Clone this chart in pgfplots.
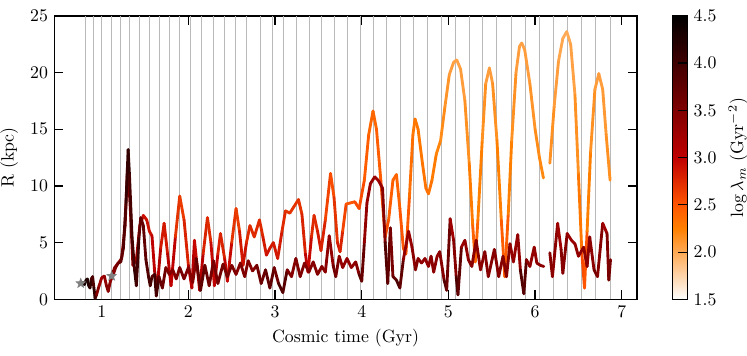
\documentclass[border=0pt]{standalone}
\usepackage{pgfplots}
\pgfplotsset{compat=1.18}
\pgfdeclareplotmark{fstar}{%
  \pgfpathmoveto{\pgfpointpolar{90}{\pgfplotmarksize}}%
  \pgfpathlineto{\pgfpointpolar{126}{0.42\pgfplotmarksize}}%
  \pgfpathlineto{\pgfpointpolar{162}{\pgfplotmarksize}}%
  \pgfpathlineto{\pgfpointpolar{198}{0.42\pgfplotmarksize}}%
  \pgfpathlineto{\pgfpointpolar{234}{\pgfplotmarksize}}%
  \pgfpathlineto{\pgfpointpolar{270}{0.42\pgfplotmarksize}}%
  \pgfpathlineto{\pgfpointpolar{306}{\pgfplotmarksize}}%
  \pgfpathlineto{\pgfpointpolar{342}{0.42\pgfplotmarksize}}%
  \pgfpathlineto{\pgfpointpolar{18}{\pgfplotmarksize}}%
  \pgfpathlineto{\pgfpointpolar{54}{0.42\pgfplotmarksize}}%
  \pgfpathclose\pgfusepathqfillstroke}

\pgfplotstableread{
t r c
1.115 2.05 3.5
1.15 2.8 3.4
1.19 3.2 3.3
1.23 3.6 3.3
1.27 6.5 3.4
1.30 12.0 3.5
1.33 8.0 3.4
1.36 3.0 3.4
1.40 3.5 3.2
1.44 6.5 3.0
1.48 7.4 2.9
1.52 7.0 2.9
1.55 6.0 2.9
1.58 5.6 2.9
1.61 2.5 3.1
1.64 1.0 3.3
1.68 4.5 2.9
1.72 6.7 2.8
1.76 4.0 2.9
1.80 1.2 3.2
1.85 5.5 2.8
1.90 9.1 2.6
1.95 7.0 2.7
2.00 3.0 2.9
2.04 1.0 3.2
2.07 5.2 2.9
2.10 3.0 3.0
2.13 0.8 3.2
2.17 4.0 2.9
2.22 7.2 2.7
2.26 5.0 2.8
2.30 1.2 3.1
2.34 4.0 2.9
2.37 5.8 2.7
2.42 3.5 2.9
2.45 1.6 3.1
2.50 5.0 2.8
2.55 8.0 2.6
2.59 6.0 2.7
2.63 3.0 3.0
2.67 5.0 2.8
2.71 6.5 2.7
2.76 5.5 2.8
2.82 7.0 2.7
2.86 5.5 2.8
2.90 3.9 2.9
2.94 4.5 2.9
2.98 5.0 2.8
3.03 3.6 2.9
3.08 6.0 2.8
3.12 7.8 2.7
3.17 7.6 2.7
3.22 8.2 2.7
3.27 8.8 2.7
3.31 7.5 2.7
3.35 4.0 2.9
3.38 2.4 3.1
3.42 5.5 2.8
3.45 7.4 2.7
3.49 6.0 2.8
3.53 4.3 2.9
3.58 7.0 2.7
3.64 11.1 2.5
3.68 9.0 2.6
3.72 5.0 2.8
3.75 4.2 2.9
3.78 6.0 2.7
3.82 8.4 2.5
3.87 8.5 2.5
3.92 8.6 2.5
3.97 8.0 2.6
4.03 10.5 2.5
4.08 14.5 2.4
4.13 16.6 2.4
4.17 15.0 2.4
4.22 10.5 2.5
4.27 5.5 2.6
4.31 7.0 2.5
4.36 10.5 2.4
4.40 11.0 2.4
4.44 8.0 2.45
4.48 4.5 2.55
4.51 4.0 2.55
4.55 9.0 2.4
4.59 14.5 2.3
4.615 15.9 2.3
4.65 15.0 2.3
4.70 12.0 2.3
4.74 9.8 2.35
4.77 9.3 2.35
4.81 10.5 2.3
4.86 12.8 2.25
4.91 14.0 2.2
4.96 17.0 2.15
5.01 19.8 2.1
5.06 20.9 2.05
5.096 21.1 2.05
5.14 20.3 2.05
5.19 17.5 2.1
5.24 12.0 2.2
5.28 6.5 2.35
5.31 3.3 2.5
5.34 7.0 2.3
5.39 14.0 2.2
5.43 19.0 2.1
5.473 20.4 2.05
5.51 19.0 2.1
5.56 14.0 2.2
5.61 7.0 2.3
5.65 2.0 2.6
5.69 7.5 2.3
5.73 14.0 2.2
5.78 20.0 2.1
5.82 22.3 2.05
5.846 22.6 2.05
5.88 22.0 2.05
5.94 19.0 2.1
6.00 15.0 2.15
6.05 12.5 2.2
6.096 10.7 2.2
}\Ua

\pgfplotstableread{
t r c
6.17 12.0 2.2
6.22 17.0 2.1
6.27 21.0 2.05
6.32 23.0 2.0
6.365 23.6 2.0
6.41 22.5 2.0
6.46 18.0 2.1
6.50 11.0 2.2
6.54 4.0 2.4
6.57 1.0 2.7
6.60 6.0 2.3
6.64 13.0 2.2
6.69 18.5 2.1
6.735 19.9 2.05
6.78 18.5 2.1
6.82 14.5 2.1
6.865 10.5 2.2
}\Ub

\pgfplotstableread{
t r c
0.785 1.5 4.2
0.80 1.3 4.3
0.82 1.7 4.3
0.835 1.8 4.2
0.85 1.2 4.3
0.865 1.0 4.2
0.88 1.8 4.0
0.895 2.0 3.8
0.91 1.0 4.0
0.925 0.1 4.3
0.94 0.4 3.6
0.97 1.2 3.3
1.00 1.9 3.2
1.03 2.05 3.3
1.055 1.2 3.4
1.075 0.7 3.5
1.10 1.6 3.3
1.13 2.1 3.4
1.16 2.8 3.5
1.19 3.2 3.6
1.22 3.3 3.7
1.25 4.5 3.8
1.28 8.5 3.9
1.305 13.2 4.2
1.32 11.0 4.0
1.35 5.5 3.9
1.38 2.5 4.0
1.40 1.2 4.2
1.43 5.5 3.8
1.45 7.2 3.7
1.48 6.5 3.7
1.51 3.5 3.8
1.54 2.0 3.9
1.56 1.2 4.0
1.58 2.0 3.9
1.61 2.2 3.7
1.63 0.3 4.3
1.66 2.0 3.6
1.70 1.0 3.8
1.74 2.8 3.5
1.78 2.2 3.5
1.82 2.6 3.4
1.86 1.8 3.5
1.90 2.8 3.5
1.95 1.8 3.6
2.00 2.8 3.4
2.05 1.5 3.5
2.09 3.6 3.4
2.14 0.8 4.0
2.19 3.0 3.5
2.24 1.2 3.8
2.29 3.4 3.4
2.34 1.4 3.7
2.40 3.1 3.5
2.45 2.0 3.6
2.50 3.0 3.5
2.55 2.2 3.5
2.60 3.2 3.4
2.65 2.0 3.6
2.69 3.4 3.4
2.74 2.5 3.5
2.79 3.0 3.4
2.84 1.4 3.8
2.89 2.6 3.5
2.94 1.0 4.0
2.99 2.8 3.5
3.04 1.4 3.7
3.09 0.6 4.1
3.14 2.6 3.5
3.19 2.0 3.5
3.24 3.6 3.4
3.29 2.0 3.6
3.34 3.2 3.4
3.39 2.4 3.5
3.44 3.3 3.4
3.49 2.2 3.5
3.54 2.9 3.4
3.58 2.4 3.5
3.625 5.6 3.3
3.67 3.0 3.4
3.70 2.0 3.8
3.74 3.8 3.3
3.78 2.8 3.4
3.83 3.6 3.3
3.88 2.8 3.4
3.93 3.3 3.3
3.97 2.2 3.6
4.00 1.6 4.0
4.03 5.0 3.4
4.06 8.5 3.3
4.10 10.2 3.3
4.15 10.8 3.3
4.19 10.5 3.3
4.24 9.8 3.3
4.27 5.0 3.6
4.30 1.4 4.1
4.33 6.3 3.4
4.36 2.0 3.7
4.40 1.7 3.7
4.44 1.0 4.1
4.48 3.5 3.4
4.54 6.0 3.3
4.58 4.6 3.3
4.62 2.6 3.5
4.65 3.6 3.4
4.69 3.2 3.4
4.73 3.6 3.3
4.77 2.9 3.4
4.80 3.8 3.3
4.83 2.4 3.5
4.87 3.8 3.3
4.90 4.2 3.3
4.95 1.7 3.6
4.98 0.8 4.1
5.02 7.1 3.2
5.06 5.2 3.3
5.09 2.0 3.6
5.11 0.4 4.2
5.15 4.6 3.3
5.19 5.2 3.3
5.23 3.5 3.4
5.27 2.9 3.5
5.32 5.2 3.3
5.37 2.6 3.5
5.42 4.2 3.3
5.46 2.0 3.6
5.53 4.4 3.3
5.58 2.0 3.6
5.63 3.8 3.3
5.67 2.0 3.6
5.71 4.9 3.3
5.75 3.3 3.4
5.80 5.7 3.2
5.83 2.6 3.5
5.87 0.5 4.2
5.90 3.5 3.4
5.94 2.9 3.4
5.99 4.6 3.3
6.02 3.2 3.4
6.06 3.0 3.4
6.10 2.9 3.4
}\La

\pgfplotstableread{
t r c
6.17 4.1 3.3
6.20 2.0 3.6
6.26 6.7 3.2
6.30 4.4 3.3
6.32 2.3 3.6
6.37 5.8 3.3
6.42 5.2 3.3
6.46 4.9 3.3
6.50 3.8 3.4
6.56 4.6 3.3
6.60 2.9 3.5
6.63 5.5 3.3
6.68 2.6 3.5
6.72 2.0 3.7
6.78 6.7 3.2
6.83 5.8 3.3
6.85 1.7 3.7
6.87 3.5 3.4
}\Lb

\begin{document}
\begin{tikzpicture}
\begin{axis}[
  name=ax, at={(0,0)}, anchor=south west,
  scale only axis, width=327.6pt, height=159.5pt,
  xmin=0.453, xmax=7.173, ymin=0, ymax=25,
  xtick={1,2,3,4,5,6,7}, ytick={0,5,10,15,20,25},
  tick align=inside, xtick pos=both, ytick pos=both,
  major tick length=5pt,
  every tick/.style={black, line width=0.75pt},
  axis line style={line width=0.85pt},
  xlabel={Cosmic time (Gyr)}, ylabel={R (kpc)},
  extra x ticks={0.815,0.908,1.0,1.107,1.211,1.318,1.434,1.546,1.661,1.780,1.895,2.027,2.154,2.284,2.415,2.546,2.673,2.826,2.968,3.100,3.250,3.392,3.538,3.688,3.834,3.988,4.138,4.288,4.450,4.600,4.757,4.923,5.076,5.238,5.396,5.558,5.723,5.884,6.046,6.211,6.372,6.538,6.700,6.865},
  extra x tick labels={},
  extra x tick style={grid=major, major grid style={gray!55, line width=0.45pt}, major tick length=0pt},
  colormap={gh}{rgb(0)=(1,1,1) rgb(3)=(1,0.5,0) rgb(4)=(1,0.3333,0) rgb(6)=(0.75,0,0) rgb(12)=(0,0,0)},
  point meta min=1.5, point meta max=4.5,
  colorbar,
  colorbar style={
    at={(parent axis.north east)}, anchor=north west, xshift=11.5pt,
    scale only axis, width=8.44pt,
    ytick={1.5,2,2.5,3,3.5,4,4.5},
    yticklabel style={/pgf/number format/.cd, fixed, fixed zerofill, precision=1},
    tick align=inside, ytick pos=right, major tick length=5.5pt,
    every tick/.style={black, line width=0.6pt},
    axis line style={line width=0.75pt},
    ylabel={$\log\lambda_m$ (Gyr$^{-2}$)},
  },
]
\addplot[mesh, point meta=explicit, line width=1.6pt, line join=round, line cap=round] table[x=t, y=r, meta=c] {\Ua};
\addplot[mesh, point meta=explicit, line width=1.6pt, line join=round, line cap=round] table[x=t, y=r, meta=c] {\Ub};
\addplot[mesh, point meta=explicit, line width=1.6pt, line join=round, line cap=round] table[x=t, y=r, meta=c] {\La};
\addplot[mesh, point meta=explicit, line width=1.6pt, line join=round, line cap=round] table[x=t, y=r, meta=c] {\Lb};
\addplot[only marks, mark=fstar, mark size=2.7pt, draw=gray, fill=gray] coordinates {(0.758,1.41) (1.115,2.05)};
\end{axis}
\pgfresetboundingbox
\path[use as bounding box] (-30.54pt,-31.33pt) rectangle (389.6pt,168.36pt);
\end{tikzpicture}
\end{document}
